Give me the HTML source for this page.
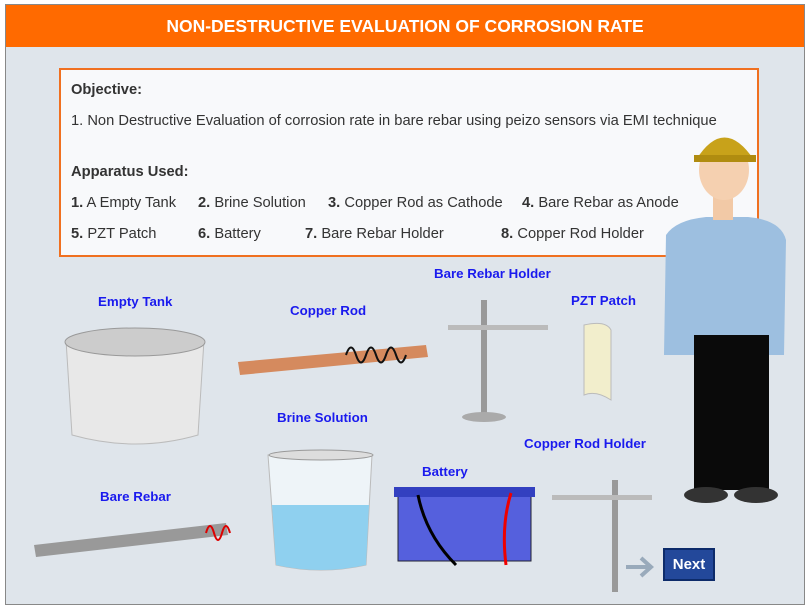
<!DOCTYPE html>
<html><head><meta charset="utf-8"><style>
body{margin:0;width:811px;height:610px;background:#fff;font-family:"Liberation Sans",sans-serif;overflow:hidden}
#frame{position:absolute;left:5px;top:4px;width:800px;height:601px;border:1px solid #888;background:#dfe5eb;box-sizing:border-box}
#hdr{position:absolute;left:0;top:0;width:798px;height:42px;background:#ff6a00;color:#fff;font-weight:bold;font-size:17.5px;text-align:center;line-height:42px}
#obj{position:absolute;left:53px;top:63px;width:700px;height:189px;border:2px solid #f07020;background:#f8f9fb;box-sizing:border-box;color:#333;font-size:14.7px}
#obj div{position:absolute;white-space:nowrap}
.lbl{position:absolute;color:#1a1aee;font-weight:bold;font-size:13.3px;white-space:nowrap}
#next{position:absolute;left:657px;top:543px;width:52px;height:33px;background:#23489a;border:2px solid #0d2b6a;color:#fff;font-weight:bold;font-size:15px;text-align:center;line-height:29px;box-sizing:border-box}
</style></head><body>
<div id="frame">
<div id="hdr">NON-DESTRUCTIVE EVALUATION OF CORROSION RATE</div>
<div id="obj">
<div style="left:10px;top:12px;font-weight:bold">Objective:</div>
<div style="left:10px;top:43px">1. Non Destructive Evaluation of corrosion rate in bare rebar using peizo sensors via EMI technique</div>
<div style="left:10px;top:94px;font-weight:bold">Apparatus Used:</div>
<div style="left:10px;top:125px"><b>1.</b> A Empty Tank</div>
<div style="left:137px;top:125px"><b>2.</b> Brine Solution</div>
<div style="left:267px;top:125px"><b>3.</b> Copper Rod as Cathode</div>
<div style="left:461px;top:125px"><b>4.</b> Bare Rebar as Anode</div>
<div style="left:10px;top:156px"><b>5.</b> PZT Patch</div>
<div style="left:137px;top:156px"><b>6.</b> Battery</div>
<div style="left:244px;top:156px"><b>7.</b> Bare Rebar Holder</div>
<div style="left:440px;top:156px"><b>8.</b> Copper Rod Holder</div>
</div>
<div class="lbl" style="left:92px;top:289px">Empty Tank</div>
<div class="lbl" style="left:284px;top:298px">Copper Rod</div>
<div class="lbl" style="left:428px;top:261px">Bare Rebar Holder</div>
<div class="lbl" style="left:565px;top:288px">PZT Patch</div>
<div class="lbl" style="left:271px;top:405px">Brine Solution</div>
<div class="lbl" style="left:416px;top:459px">Battery</div>
<div class="lbl" style="left:518px;top:431px">Copper Rod Holder</div>
<div class="lbl" style="left:94px;top:484px">Bare Rebar</div>
<svg width="800" height="600" style="position:absolute;left:0;top:0">
<g><path d="M60 335 L66 430 Q130 448 192 430 L198 335 Z" fill="#e8e8e8" stroke="#bbb"/><ellipse cx="129" cy="337" rx="70" ry="14" fill="#ccc" stroke="#999"/></g>
<g><path d="M232 357 L420 340 L422 352 L234 370 Z" fill="#d58a5e"/><path d="M340 350 q5 -15 10 0 t10 0 t10 0 t10 0 t10 0 t10 0" stroke="#111" fill="none" stroke-width="2"/></g>
<g><rect x="475" y="295" width="6" height="115" fill="#999"/><ellipse cx="478" cy="412" rx="22" ry="5" fill="#aaa"/><rect x="442" y="320" width="100" height="5" fill="#bbb"/></g>
<g><path d="M578 320 Q600 315 605 325 L605 395 Q590 385 578 390 Z" fill="#f2eecc" stroke="#bbb"/></g>
<g><path d="M28 540 L220 518 L222 530 L30 552 Z" fill="#999"/><path d="M200 528 q4 -14 8 0 t8 0 t8 0" stroke="#d00" fill="none" stroke-width="2"/></g>
<g><path d="M262 450 L270 560 Q315 570 360 560 L366 450 Z" fill="#eef4f8" stroke="#bbb"/><path d="M266 500 L270 560 Q315 570 360 560 L363 500 Z" fill="#8fd0ef"/><ellipse cx="315" cy="450" rx="52" ry="5" fill="#ddd" stroke="#999"/></g>
<g><rect x="392" y="486" width="133" height="70" fill="#5560dd" stroke="#223"/><rect x="388" y="482" width="141" height="10" fill="#3340c0"/><path d="M412 490 Q420 530 450 560" stroke="#000" stroke-width="3" fill="none"/><path d="M505 488 Q495 520 500 560" stroke="#e00" stroke-width="3" fill="none"/></g>
<g><rect x="606" y="475" width="6" height="112" fill="#999"/><rect x="546" y="490" width="100" height="5" fill="#bbb"/></g>
<path d="M620 562 L643 562 M635 553 L645 562 L635 571" stroke="#9ab" stroke-width="4" fill="none"/>
<g>
<path d="M660 230 Q670 215 700 212 L715 212 L742 212 Q775 215 780 235 L778 350 L658 350 Z" fill="#9dbfe0"/>
<rect x="688" y="330" width="75" height="155" fill="#0a0a0a"/>
<ellipse cx="700" cy="490" rx="22" ry="8" fill="#333"/><ellipse cx="750" cy="490" rx="22" ry="8" fill="#333"/>
<rect x="707" y="185" width="20" height="30" fill="#f2c9a6"/>
<ellipse cx="718" cy="165" rx="25" ry="30" fill="#f5d0b0"/>
<path d="M690 155 Q718 110 748 155 Z" fill="#c8a21a"/><rect x="688" y="150" width="62" height="7" fill="#b08c10"/>
</g>
</svg>
<div id="next">Next</div>
</div>
</body></html>
